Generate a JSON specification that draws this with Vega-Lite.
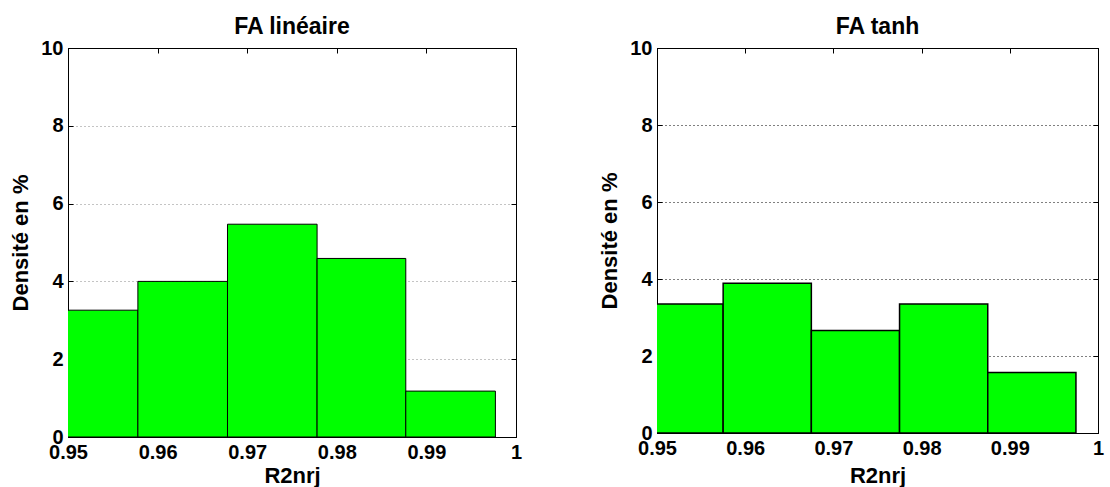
{
  "$schema": "https://vega.github.io/schema/vega-lite/v6.json",
  "padding": {"left": 9, "top": 15, "right": 0, "bottom": 0},
  "data": {"values": [
    {"panel": "FA linéaire", "lo": 0.9478, "hi": 0.9578, "density": 3.26},
    {"panel": "FA linéaire", "lo": 0.9578, "hi": 0.9678, "density": 4.0},
    {"panel": "FA linéaire", "lo": 0.9678, "hi": 0.9778, "density": 5.47},
    {"panel": "FA linéaire", "lo": 0.9778, "hi": 0.9877, "density": 4.59},
    {"panel": "FA linéaire", "lo": 0.9877, "hi": 0.9977, "density": 1.18},
    {"panel": "FA tanh", "lo": 0.9475, "hi": 0.9575, "density": 3.35},
    {"panel": "FA tanh", "lo": 0.9575, "hi": 0.9675, "density": 3.89},
    {"panel": "FA tanh", "lo": 0.9675, "hi": 0.9775, "density": 2.66},
    {"panel": "FA tanh", "lo": 0.9775, "hi": 0.9875, "density": 3.35},
    {"panel": "FA tanh", "lo": 0.9875, "hi": 0.9975, "density": 1.57}
  ]},
  "config": {
    "font": "Liberation Sans",
    "view": {"stroke": "black", "strokeWidth": 1},
    "concat": {"spacing": 75},
    "title": {"fontSize": 23, "fontWeight": "bold", "color": "black", "font": "Liberation Sans", "offset": -1, "frame": "group"},
    "axis": {
      "domainColor": "black", "tickColor": "black", "tickSize": -5,
      "labelFont": "Liberation Sans", "labelFontSize": 20, "labelFontWeight": "bold", "labelColor": "black",
      "titleFont": "Liberation Sans", "titleFontSize": 22, "titleFontWeight": "bold", "titleColor": "black",
      "labelPadding": 10, "labelFlush": false, "grid": false
    }
  },
  "hconcat": [
    {
      "title": {"text": "FA linéaire", "fontSize": 23},
      "width": 448, "height": 389,
      "transform": [{"filter": "datum.panel == 'FA linéaire'"}],
      "layer": [
        {
          "mark": {"type": "bar", "fill": "#00FF00", "stroke": "black", "strokeWidth": 1, "clip": true},
          "encoding": {
            "x": {"field": "lo", "type": "quantitative", "title": "R2nrj",
                  "scale": {"domain": [0.95, 1], "nice": false, "zero": false},
                  "axis": {"orient": "bottom", "values": [0.95, 0.96, 0.97, 0.98, 0.99, 1], "format": "~g", "titlePadding": 3}},
            "x2": {"field": "hi"},
            "y": {"field": "density", "type": "quantitative", "title": "Densité en %",
                  "scale": {"domain": [0, 10], "nice": false},
                  "axis": {"orient": "left", "values": [0, 2, 4, 6, 8, 10], "format": "d", "grid": true, "gridDash": [1, 3], "gridColor": "#888", "titlePadding": 8}},
            "y2": {"datum": 0}
          }
        },
        {
          "mark": {"type": "rule", "opacity": 0},
          "encoding": {
            "x": {"field": "lo", "type": "quantitative",
                  "axis": {"orient": "top", "values": [0.95, 0.96, 0.97, 0.98, 0.99, 1], "labels": false, "title": null}},
            "y": {"field": "density", "type": "quantitative",
                  "axis": {"orient": "right", "values": [0, 2, 4, 6, 8, 10], "labels": false, "title": null}}
          }
        }
      ],
      "resolve": {"axis": {"x": "independent", "y": "independent"}}
    },
    {
      "title": {"text": "FA tanh", "fontSize": 23},
      "width": 441, "height": 385,
      "transform": [{"filter": "datum.panel == 'FA tanh'"}],
      "layer": [
        {
          "mark": {"type": "bar", "fill": "#00FF00", "stroke": "black", "strokeWidth": 1.5, "clip": true},
          "encoding": {
            "x": {"field": "lo", "type": "quantitative", "title": "R2nrj",
                  "scale": {"domain": [0.95, 1], "nice": false, "zero": false},
                  "axis": {"orient": "bottom", "values": [0.95, 0.96, 0.97, 0.98, 0.99, 1], "format": "~g", "titlePadding": 7}},
            "x2": {"field": "hi"},
            "y": {"field": "density", "type": "quantitative", "title": "Densité en %",
                  "scale": {"domain": [0, 10], "nice": false},
                  "axis": {"orient": "left", "values": [0, 2, 4, 6, 8, 10], "format": "d", "grid": true, "gridDash": [1, 3], "gridColor": "black", "titlePadding": 8}},
            "y2": {"datum": 0}
          }
        },
        {
          "mark": {"type": "rule", "opacity": 0},
          "encoding": {
            "x": {"field": "lo", "type": "quantitative",
                  "axis": {"orient": "top", "values": [0.95, 0.96, 0.97, 0.98, 0.99, 1], "labels": false, "title": null}},
            "y": {"field": "density", "type": "quantitative",
                  "axis": {"orient": "right", "values": [0, 2, 4, 6, 8, 10], "labels": false, "title": null}}
          }
        }
      ],
      "resolve": {"axis": {"x": "independent", "y": "independent"}}
    }
  ]
}
